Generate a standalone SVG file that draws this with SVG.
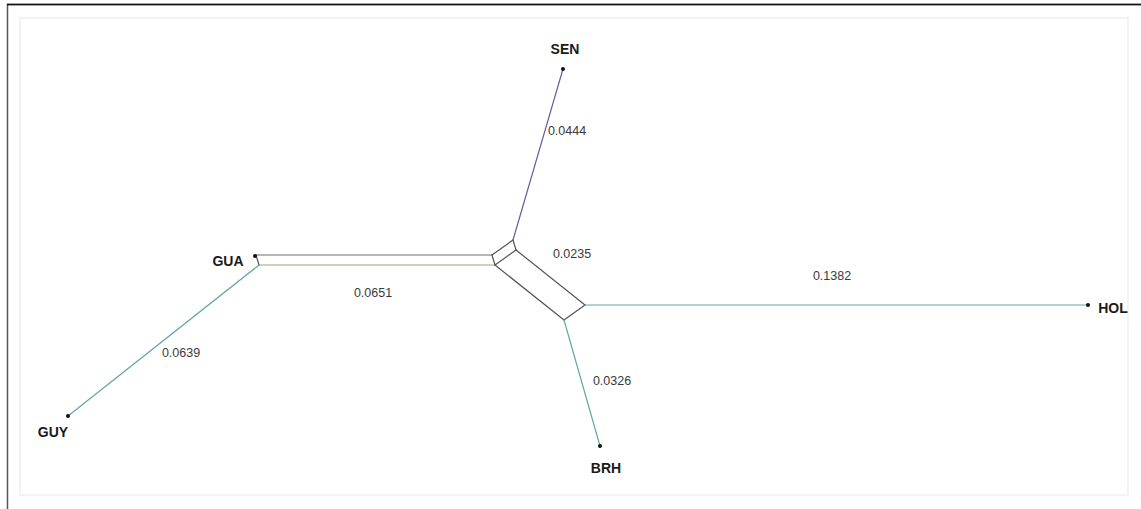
<svg xmlns="http://www.w3.org/2000/svg" width="1141" height="509" viewBox="0 0 1141 509">
<style>
.bg{fill:#ffffff}
.frame{fill:none;stroke:#1a1a1a;stroke-width:1.5}
.inner{fill:none;stroke:#efefef;stroke-width:1.5}
.edge{fill:none;stroke-width:1.2;stroke-linecap:round}
.box{stroke:#555555}
.teal{stroke:#63a6a8}
.purple{stroke:#6a5c9c}
.olive{stroke:#a4a676}
.gray{stroke:#6e6e6e}
.dot{fill:#111111}
.lbl{font-family:"Liberation Sans",Arial,sans-serif;font-size:14px;font-weight:bold;fill:#1a1a1a}
.num{font-family:"Liberation Sans",Arial,sans-serif;font-size:12.5px;fill:#3a3a3a}
</style>
<rect class="bg" x="0" y="0" width="1141" height="509"/>
<path d="M7.5,509 V4.5 H1141" class="frame" style="stroke:#555"/>
<line x1="7" y1="4.5" x2="1141" y2="4.5" stroke="#111" stroke-width="1.5"/>
<rect class="inner" x="20" y="18" width="1108" height="477"/>
<g id="connectors">
<line class="edge gray" x1="256" y1="255" x2="492" y2="255"/>
<line class="edge olive" x1="259" y1="265" x2="495" y2="265"/>
<line class="edge box" x1="256" y1="255" x2="259" y2="265"/>
<line class="edge box" x1="492" y1="255" x2="495" y2="265"/>
<line class="edge box" x1="513" y1="240" x2="516" y2="250"/>
<line class="edge box" x1="492" y1="255" x2="513" y2="240"/>
<line class="edge box" x1="495" y1="265" x2="516" y2="250"/>
<line class="edge box" x1="516" y1="250" x2="585" y2="305"/>
<line class="edge box" x1="495" y1="265" x2="564" y2="320"/>
<line class="edge box" x1="564" y1="320" x2="585" y2="305"/>
<line class="edge purple" x1="513" y1="240" x2="563" y2="69"/>
<line class="edge teal" x1="585" y1="305" x2="1088" y2="305"/>
<line class="edge teal" x1="564" y1="320" x2="600" y2="446"/>
<line class="edge teal" x1="259" y1="265" x2="68" y2="416"/>
</g>
<g id="n-SEN"><circle class="dot" cx="563" cy="69" r="2"/><text class="lbl" x="565" y="54" text-anchor="middle">SEN</text></g>
<g id="n-GUA"><circle class="dot" cx="255" cy="256" r="2"/><text class="lbl" x="228" y="266" text-anchor="middle">GUA</text></g>
<g id="n-GUY"><circle class="dot" cx="68" cy="416" r="2"/><text class="lbl" x="53" y="437" text-anchor="middle">GUY</text></g>
<g id="n-BRH"><circle class="dot" cx="600" cy="446" r="2"/><text class="lbl" x="606" y="473" text-anchor="middle">BRH</text></g>
<g id="n-HOL"><circle class="dot" cx="1088" cy="305" r="2"/><text class="lbl" x="1113" y="313" text-anchor="middle">HOL</text></g>
<g id="edge-labels">
<text class="num" x="567" y="135" text-anchor="middle">0.0444</text>
<text class="num" x="572" y="258" text-anchor="middle">0.0235</text>
<text class="num" x="373" y="297" text-anchor="middle">0.0651</text>
<text class="num" x="832" y="280" text-anchor="middle">0.1382</text>
<text class="num" x="181" y="357" text-anchor="middle">0.0639</text>
<text class="num" x="612" y="385" text-anchor="middle">0.0326</text>
</g>
</svg>
